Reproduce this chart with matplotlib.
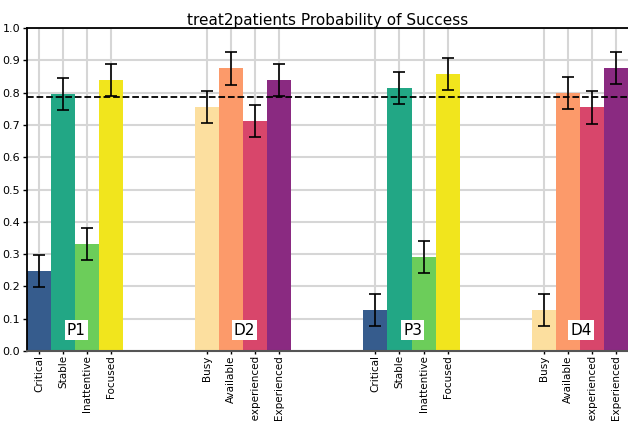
import numpy as np
import matplotlib
matplotlib.use('Agg')
import matplotlib.pyplot as plt

group_names = ['P1', 'D2', 'P3', 'D4']
patient_labels = ['Critical', 'Stable', 'Inattentive', 'Focused']
doctor_labels = ['Busy', 'Available', 'Inexperienced', 'Experienced']
tick_labels = patient_labels + doctor_labels + patient_labels + doctor_labels

p1_values = [0.248, 0.795, 0.331, 0.838]
d2_values = [0.755, 0.875, 0.712, 0.838]
p3_values = [0.126, 0.815, 0.290, 0.857]
d4_values = [0.126, 0.798, 0.754, 0.876]
error = 0.05
baseline = 0.785

patient_colors = ['#365c8d', '#22a785', '#6ccd5a', '#f1e51d']
doctor_colors = ['#fcdf9f', '#fc9a6a', '#d8466b', '#8a2a81']

values = p1_values + d2_values + p3_values + d4_values
colors = patient_colors + doctor_colors + patient_colors + doctor_colors
x_pos = np.concatenate([np.arange(4) + 7 * g for g in range(4)])

fig = plt.figure(figsize=(6.28, 4.21), dpi=100)
ax = fig.add_axes([27 / 628, 70 / 421, 602 / 628, 323 / 421])

ax.bar(x_pos, values, width=1.0, color=colors, zorder=2)
ax.errorbar(x_pos, values, yerr=error, fmt='none', ecolor='black',
            elinewidth=1.2, capsize=4.5, capthick=1.2, zorder=3)
ax.axhline(baseline, color='black', linestyle='--', linewidth=1.3, zorder=4)

for g, name in enumerate(group_names):
    ax.text(7 * g + 1.55, 0.065, name, fontsize=11, ha='center', va='center',
            bbox=dict(facecolor='white', edgecolor='none', pad=1.5), zorder=5)

ax.set_xlim(-0.5, 24.55)
ax.set_ylim(0, 1.0)
ax.set_yticks(np.arange(0, 1.01, 0.1))
ax.set_yticklabels(['%.1f' % v for v in np.arange(0, 1.01, 0.1)], fontsize=8)
ax.set_xticks(x_pos)
ax.set_xticklabels(tick_labels, rotation=90, fontsize=7.5)
ax.grid(True, color='#d6d6d6', linewidth=1.5, zorder=0)
ax.set_axisbelow(True)
ax.tick_params(axis='y', length=3, width=1, pad=2)
ax.tick_params(axis='x', length=2, width=1, pad=1)

ax.spines['right'].set_visible(False)
ax.spines['bottom'].set_color('#555555')
ax.spines['bottom'].set_linewidth(1.5)
ax.spines['top'].set_linewidth(1.3)
ax.spines['left'].set_linewidth(1.3)

ax.set_title('treat2patients Probability of Success', fontsize=11, pad=2)

fig.savefig('out.png', dpi=100)
